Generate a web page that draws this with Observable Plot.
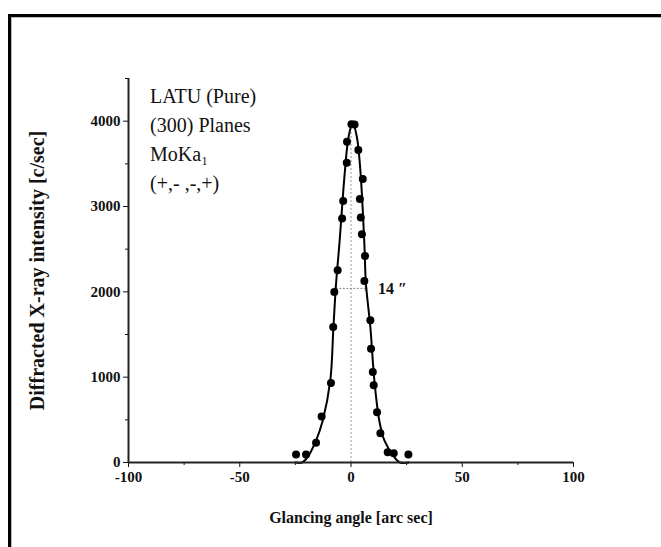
<!DOCTYPE html>
<html>
<head>
<meta charset="utf-8">
<script src="https://cdn.jsdelivr.net/npm/d3@7"></script>
<script src="https://cdn.jsdelivr.net/npm/@observablehq/plot@0.6"></script>
<style>
  html, body { margin: 0; padding: 0; background: #fff; overflow: hidden; }
  #wrap { position: relative; width: 661px; height: 547px; }
  #frame { position: absolute; left: 8px; top: 14px; width: 700px; height: 600px;
           border-top: 3px solid #000; border-left: 3px solid #000;
           box-shadow: inset 1px 1px 0 #bbb; pointer-events: none; }
  #chart { position: absolute; left: 0; top: 0; }
  #chart svg text { font-family: 'Liberation Serif', 'Times New Roman', serif; }
</style>
</head>
<body>
<div id="wrap"><div id="frame"></div><div id="chart"></div></div>
<script>
// Measured points (glancing angle [arc sec], intensity [c/sec])
const ptX = [0.2, 1.6, -1.8, 3.3, -1.9, 5.3, -3.5, 4.0, -4.0, 4.4, 4.9, 6.3, -6.0, 6.0, -7.5,
             -8.0, 8.7, 9.0, 9.8, 10.2, -9.0, 11.7, -13.2, 13.2, -15.7, 16.5, 19.2, 25.8, -20.2, -24.7];
const ptY = [3965, 3960, 3760, 3662, 3513, 3322, 3063, 3087, 2860, 2872, 2676, 2421, 2254, 2128, 1999,
             1588, 1667, 1334, 1060, 904, 931, 590, 540, 344, 231, 121, 109, 94, 94, 94];

// Fitted curve
const curveX = [-25, -22, -19.5, -15.7, -12.7, -9.3, -7.9, -6.7, -5.2, -2.7, -1.0, 0.8, 2.6, 4.2, 6.0, 6.7, 8.7, 10.5, 12.7, 15.0, 19.5, 22, 26];
const curveY = [0, 0, 62, 258, 493, 962, 1588, 2100, 2567, 3427, 3830, 3975, 3820, 3427, 2567, 2100, 1588, 962, 493, 258, 62, 0, 0];

// Axis ticks
const majorX = [-100, -50, 0, 50, 100];
const minorX = [-75, -25, 25, 75];
const majorY = [0, 1000, 2000, 3000, 4000];
const minorY = [500, 1500, 2500, 3500, 4500];

// Annotations
const annText = ["LATU (Pure)", "(300) Planes", "MoKa\u2081", "(+,- ,-,+)"];
const annX = [-90.3, -90.3, -90.3, -90.3];
const annY = [4284, 3944, 3603, 3263];
const fwhmX1 = [-6.8], fwhmX2 = [6.7], fwhmY = [2040];
const fwhmLabel = ["14 \u2033"];
const fwhmLabelX = [12.1];
const centerX = [0], centerY1 = [0], centerY2 = [3900];

const font = "'Liberation Serif', 'Times New Roman', serif";

const chart = Plot.plot({
  width: 661,
  height: 547,
  marginLeft: 128,
  marginRight: 88,
  marginTop: 78,
  marginBottom: 85,
  style: { fontFamily: font, background: "transparent", color: "#111" },
  x: { domain: [-100, 100] },
  y: { domain: [0, 4500] },
  marks: [
    Plot.axisX({ ticks: majorX, tickSize: 5, tickPadding: 4, tickFormat: d => String(d),
                 fontSize: 15, fontWeight: "bold", label: null }),
    Plot.axisX({ ticks: [], tickSize: 0, fontSize: 16, fontWeight: "bold",
                 label: "Glancing angle [arc sec]", labelAnchor: "center", labelArrow: "none", labelOffset: 60 }),
    Plot.axisX({ ticks: minorX, tickSize: 3, tickFormat: () => "", label: null }),
    Plot.axisY({ ticks: majorY, tickSize: 5, tickPadding: 3, tickFormat: d => String(d),
                 fontSize: 15, fontWeight: "bold", label: null }),
    Plot.axisY({ ticks: [], tickSize: 0, fontSize: 20, fontWeight: "bold",
                 label: "Diffracted X-ray intensity [c/sec]", labelAnchor: "center", labelArrow: "none", labelOffset: 99 }),
    Plot.axisY({ ticks: minorY, tickSize: 3, tickFormat: () => "", label: null }),
    Plot.ruleX(centerX, { x: d => d, y1: () => centerY1[0], y2: () => centerY2[0],
                          stroke: "#999", strokeWidth: 1, strokeDasharray: "2,2" }),
    Plot.link(fwhmY, { x1: () => fwhmX1[0], x2: () => fwhmX2[0], y1: d => d, y2: d => d,
                       stroke: "#888", strokeWidth: 1, strokeDasharray: "2,1.5",
                       markerStart: "arrow", markerEnd: "arrow" }),
    Plot.line(curveX.map((x, i) => ({ x, y: curveY[i] })), { x: "x", y: "y", stroke: "#000", strokeWidth: 2, curve: "catmull-rom" }),
    Plot.dot(ptX.map((x, i) => ({ x, y: ptY[i] })), { x: "x", y: "y", r: 4, fill: "#000", stroke: "none" }),
    Plot.ruleY([0], { stroke: "#222", strokeWidth: 2 }),
    Plot.ruleX([-100], { stroke: "#222", strokeWidth: 2 }),
    Plot.text(annText, { x: (d, i) => annX[i], y: (d, i) => annY[i], text: d => d,
                         textAnchor: "start", lineAnchor: "middle", fontSize: 20, fill: "#111", fontFamily: font }),
    Plot.text(fwhmLabel, { x: (d, i) => fwhmLabelX[i], y: () => fwhmY[0], text: d => d,
                           textAnchor: "start", lineAnchor: "middle", fontSize: 16, fontWeight: "bold", fill: "#111", fontFamily: font })
  ]
});
document.getElementById("chart").appendChild(chart);
</script>
</body>
</html>
